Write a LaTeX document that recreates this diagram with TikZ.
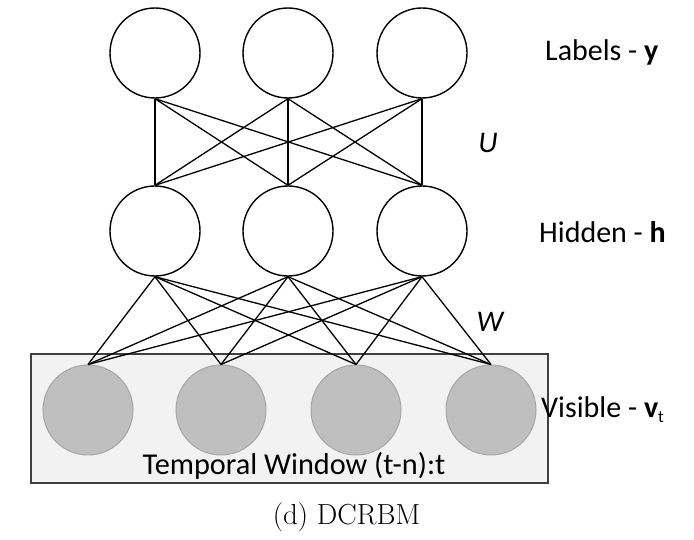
\documentclass[tikz,border=0pt]{standalone}
\usepackage{fontspec}
\newfontfamily\carl{Carlito}
\definecolor{visfill}{HTML}{BFBFBF}
\definecolor{visdraw}{HTML}{A6A6A6}
\definecolor{boxfill}{HTML}{F2F2F2}
\definecolor{boxdraw}{HTML}{404040}
\begin{document}
\begin{tikzpicture}[x=1pt,y=-1pt,
  unit/.style={circle,draw=black,line width=1.4pt,minimum size=90pt,inner sep=0pt},
  visunit/.style={circle,draw=visdraw,fill=visfill,line width=1pt,minimum size=90pt,inner sep=0pt},
  conn/.style={line width=1.3pt,black},
  lab/.style={anchor=west,inner sep=0pt,font=\carl\fontsize{30}{32}\selectfont},
  wlab/.style={inner sep=0pt,font=\carl\itshape\fontsize{30}{32}\selectfont}]
\useasboundingbox (0,0) rectangle (694,540);
\node[draw=boxdraw,fill=boxfill,line width=1.3pt,minimum width=517pt,minimum height=129pt,inner sep=0pt] (win) at (289.5,418.5) {};
\foreach \i/\x in {1/155,2/288,3/422}{
  \node[unit] (y\i) at (\x,53) {};
  \node[unit] (h\i) at (\x,231) {};
}
\foreach \j/\x in {1/88,2/221,3/356,4/491}{
  \node[visunit] (v\j) at (\x,410) {};
}
\foreach \i in {1,2,3}{
  \foreach \k in {1,2,3}{
    \draw[conn] (y\i.south) -- (h\k.north);
  }
  \foreach \j in {1,2,3,4}{
    \draw[conn] (h\i.south) -- (v\j.north);
  }
}
\node[inner sep=0pt,font=\carl\fontsize{30.3}{32}\selectfont] (tw) at (294,466) {Temporal Window (t-n):t};
\node[lab] (ly) at (545,52) {Labels - \textbf{y}};
\node[lab] (lh) at (539,232) {Hidden - \textbf{h}};
\node[lab] (lv) at (541,410) {Visible - \textbf{v}\raisebox{-0.35ex}{\fontsize{17}{17}\selectfont t}};
\node[wlab] (u) at (488,143) {U};
\node[wlab] (w) at (490,322) {W};
\node[inner sep=0pt,font=\fontsize{29}{32}\selectfont] (cap) at (346.5,517) {(d) DCRBM};
\end{tikzpicture}
\end{document}
